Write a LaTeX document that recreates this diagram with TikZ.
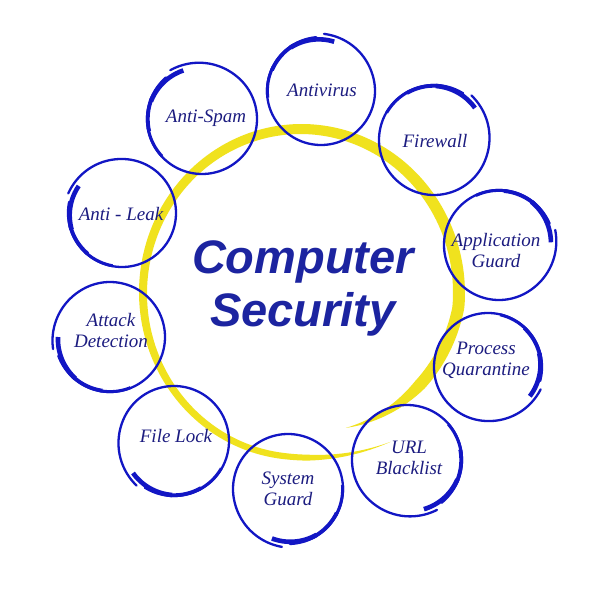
\documentclass[tikz,border=0pt]{standalone}
\usepackage{fontspec}
\setmainfont{Liberation Serif}
\newfontfamily\titlefont{Liberation Sans}
\definecolor{ringyellow}{RGB}{240,226,30}
\definecolor{circblue}{RGB}{18,22,196}
\definecolor{labelblue}{RGB}{28,28,128}
\definecolor{titleblue}{RGB}{28,36,160}
\tikzset{
  declare function={
    wy(\t)=min(12-max(\t,0)/45,(\t+71)*0.35,(302-\t)*0.2);
    fy(\t)=1-0.13*max(0,(-5-\t)/66)+0.07*(max(0,(\t-262)/40))^2;
  },
  lbl/.style={font=\fontsize{19}{21}\selectfont\itshape, text=labelblue, align=center, inner sep=0pt},
  titlelbl/.style={font=\titlefont\bfseries\itshape\fontsize{47}{53}\selectfont, text=titleblue, align=center, inner sep=0pt},
  thinstroke/.style={draw=circblue, line width=2.3pt, line cap=round},
  brushA/.style={draw=circblue, line width=4.6pt},
  brushB/.style={draw=circblue, line width=3.8pt},
  brushC/.style={draw=circblue, line width=3.0pt},
}
\begin{document}
\begin{tikzpicture}[x=1pt,y=-1pt]
\useasboundingbox (0,0) rectangle (600,594);
\fill[white] (0,0) rectangle (600,594);
% yellow spiral ring
\fill[ringyellow] plot[domain=-71:302,samples=240] ({301+(158*fy(\x)+wy(\x)/2)*cos(\x)},{293-(164*fy(\x)+wy(\x)/2)*sin(\x)})
  -- plot[domain=302:-71,samples=240] ({301+(158*fy(\x)-wy(\x)/2)*cos(\x)},{293-(164*fy(\x)-wy(\x)/2)*sin(\x)}) -- cycle;
% blue brush circles
\foreach \cx/\cy/\rr/\sa/\nm in {321/91/54/75/antivirus, 434/140/55/38/firewall, 499/245/55/3/appguard,
  488/367/54/-35/procq, 407/460/55/-71/url, 288/489/55/-108/sysguard, 174/441/55/-142/filelock,
  110/337/55/180/attack, 122/213/54/148/antileak, 202/119/55/111/antispam}{
  \coordinate (c-\nm) at (\cx,\cy);
  \draw[thinstroke] plot[domain=\sa+20:\sa+372,samples=140] ({\cx+(\rr+3.2*(max(0,(\x-\sa-300)/72))^1.6)*cos(\x)},{\cy-(\rr+3.2*(max(0,(\x-\sa-300)/72))^1.6)*sin(\x)});
  \draw[brushA] plot[domain=\sa:\sa+50,samples=24] ({\cx+(\rr-3+2*(\x-\sa)/50)*cos(\x)},{\cy-(\rr-3+2*(\x-\sa)/50)*sin(\x)});
  \draw[brushB] plot[domain=\sa+46:\sa+82,samples=16] ({\cx+(\rr-0.8)*cos(\x)},{\cy-(\rr-0.8)*sin(\x)});
  \draw[brushC] plot[domain=\sa+78:\sa+112,samples=16] ({\cx+(\rr-0.4)*cos(\x)},{\cy-(\rr-0.4)*sin(\x)});
}
% labels
\node[lbl,anchor=base] (antivirus) at (322,96) {Antivirus};
\node[lbl,anchor=base] (antispam) at (206,122) {Anti-Spam};
\node[lbl,anchor=base] (firewall) at (435,147) {Firewall};
\node[lbl,anchor=base] (antileak) at (121,220) {Anti - Leak};
\node[lbl,anchor=base] (filelock) at (176,442) {File Lock};
\node[lbl] (appguard) at (496,251) {Application\\Guard};
\node[lbl] (procq) at (486,360) {Process\\Quarantine};
\node[lbl] (attack) at (111,330) {Attack\\Detection};
\node[lbl] (sysguard) at (288,489) {System\\Guard};
\node[lbl] (url) at (409,458) {URL\\Blacklist};
\node[titlelbl,anchor=north] (title) at (303,240.5) {Computer\\Security};
\end{tikzpicture}
\end{document}
